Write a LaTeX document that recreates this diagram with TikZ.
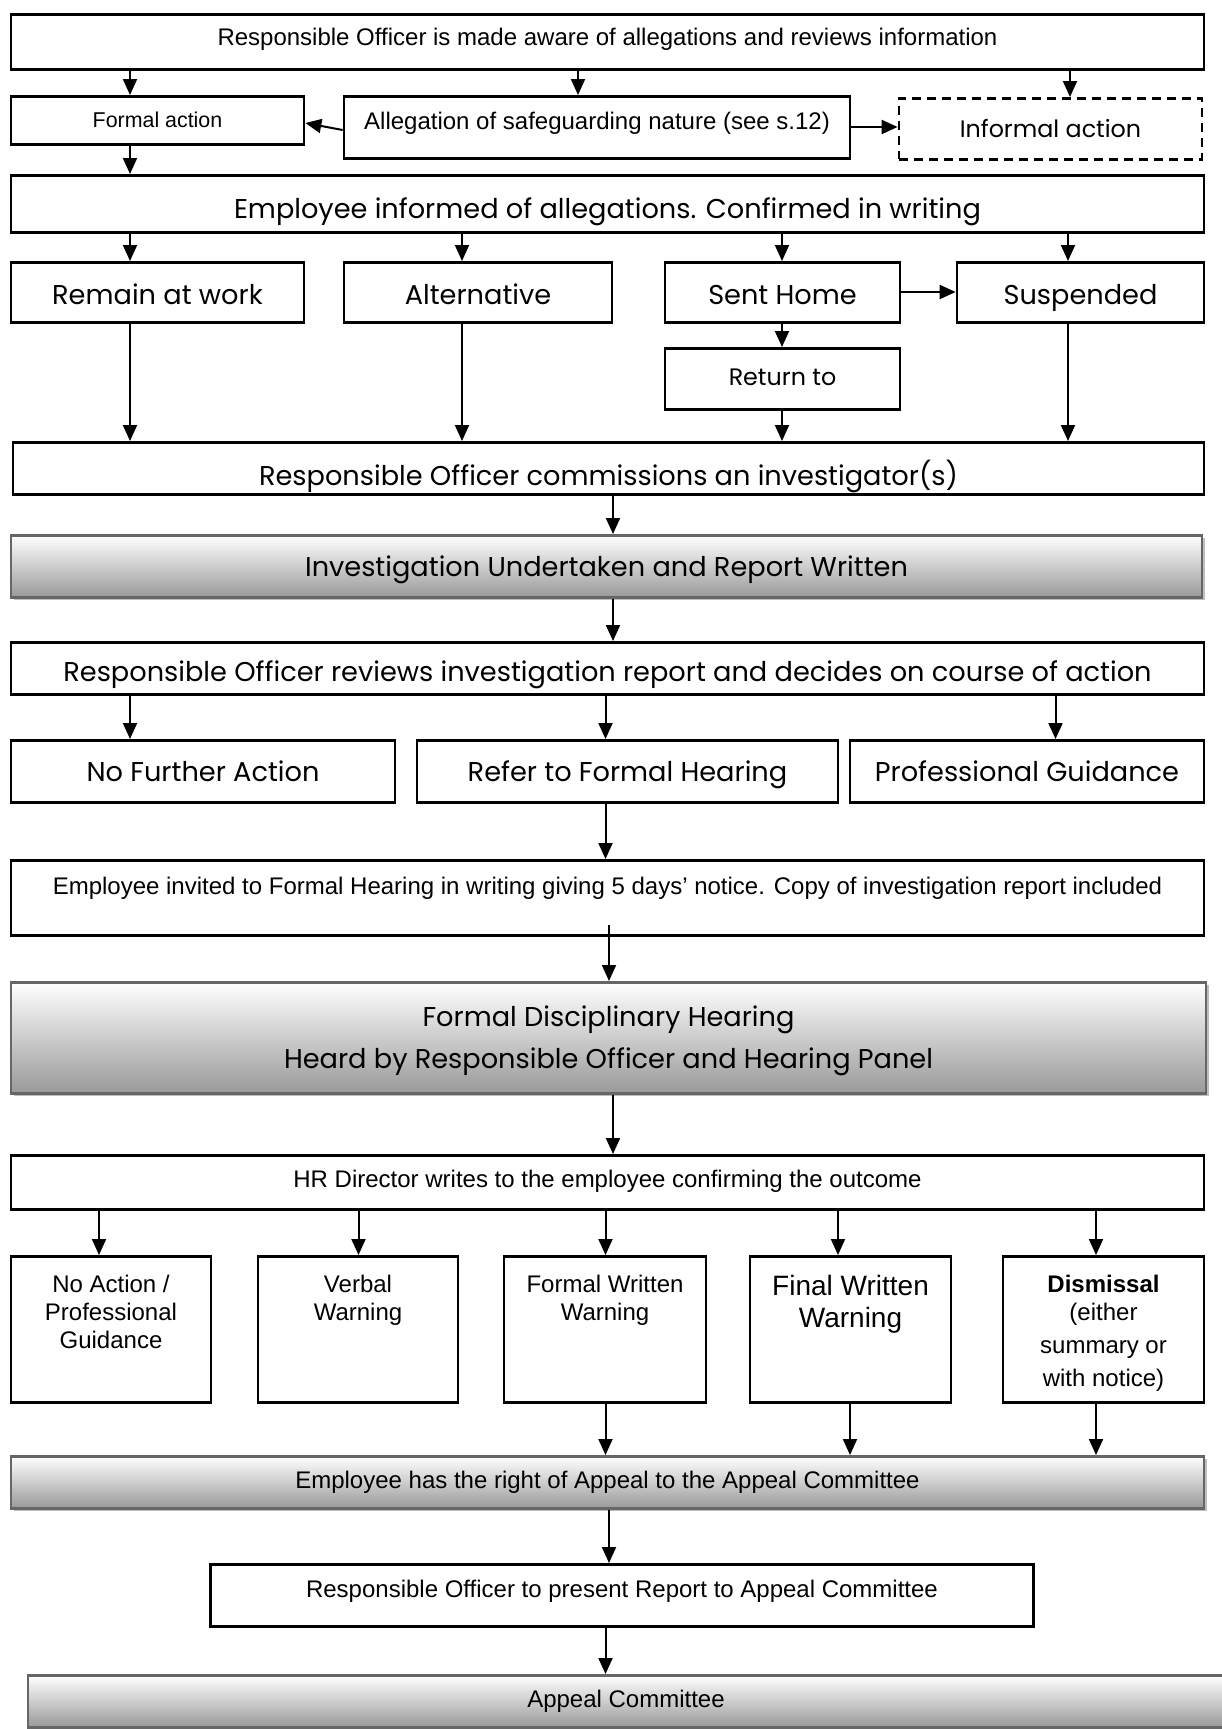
\documentclass[tikz,border=0pt]{standalone}
\usepackage{fontspec}
\usetikzlibrary{arrows.meta,shadows}
\newfontfamily\arialfont{Liberation Sans}
\newfontfamily\roundfont{Poppins}
\tikzset{
  >={Triangle[length=8pt,width=7pt]},
  box/.style={draw, line width=1.35pt, inner sep=0pt, anchor=north, align=center},
  dims/.style n args={3}{minimum width=#1, text height=#2, text depth=#3},
  arial/.style={font=\arialfont\fontsize{12}{13.8}\selectfont},
  arialsmall/.style={font=\arialfont\fontsize{10.7}{13}\selectfont},
  round/.style={font=\roundfont\fontsize{13.6}{21}\selectfont},
  roundsmall/.style={font=\roundfont\fontsize{11.9}{14}\selectfont},
  dashed box/.style={dash pattern=on 4.5pt off 3pt},
  grey box/.style={box, draw=black!60, top color=white, bottom color=black!40,
    drop shadow={shadow xshift=1.5pt, shadow yshift=-1.5pt, fill=black!25, opacity=1}},
  flow/.style={->, line width=1pt},
}
\begin{document}
\begin{tikzpicture}[x=0.5pt, y=-0.5pt]
\useasboundingbox (0,0) rectangle (1221,1729);
% segnalazione
\node[box, arial, dims={596.5pt}{15.5pt}{12pt}] (aware) at (607.5,13) {Responsible Officer is made aware of allegations and reviews information};
\node[box, arialsmall, dims={146.5pt}{15.75pt}{8.25pt}] (formal) at (157.5,95) {Formal action};
\node[box, arial, dims={253pt}{16.75pt}{14.25pt}] (safeguard) at (597,95) {Allegation of safeguarding nature (see s.12)};
\node[box, roundsmall, dashed box, dims={151.5pt}{19.35pt}{11.15pt}] (informal) at (1050.5,97) {Informal action};
\draw[flow] (130,0 |- aware.south) -- (130,0 |- formal.north);
\draw[flow] (578,0 |- aware.south) -- (578,0 |- safeguard.north);
\draw[flow] (1070,0 |- aware.south) -- (1070,0 |- informal.north);
\draw[flow] (safeguard.west |- 0,130) -- (formal.east |- 0,123);
\draw[flow] (safeguard.east |- 0,127) -- (informal.west |- 0,127);
% dipendente informato
\node[box, dims={596.5pt}{21.75pt}{6.75pt}] (informed) at (607.5,174) {};
\begin{scope}
\clip (informed.south west) rectangle (informed.north east);
\node[round, anchor=base, inner sep=0pt] (informed-t) at (607.5,218) {Employee informed of allegations. Confirmed in writing};
\end{scope}
\draw[flow] (130,0 |- formal.south) -- (130,0 |- informed.north);
% posizione del dipendente
\node[box, round, dims={146.5pt}{21.25pt}{8.75pt}] (remain) at (157.5,261) {Remain at work};
\node[box, round, dims={134pt}{21.25pt}{8.75pt}] (alternative) at (478,261) {Alternative};
\node[box, round, dims={117.5pt}{21.25pt}{8.75pt}] (sent) at (782.5,261) {Sent Home};
\node[box, round, dims={123.5pt}{21.25pt}{8.75pt}] (suspended) at (1080.5,261) {Suspended};
\node[box, roundsmall, dims={117.5pt}{18.75pt}{11.75pt}] (return) at (782.5,347) {Return to};
\draw[flow] (130,0 |- informed.south) -- (130,0 |- remain.north);
\draw[flow] (462,0 |- informed.south) -- (462,0 |- alternative.north);
\draw[flow] (782,0 |- informed.south) -- (782,0 |- sent.north);
\draw[flow] (1068,0 |- informed.south) -- (1068,0 |- suspended.north);
\draw[flow] (sent.east |- 0,292) -- (suspended.west |- 0,292);
\draw[flow] (782,0 |- sent.south) -- (782,0 |- return.north);
% indagine
\node[box, dims={595.5pt}{21.75pt}{4.25pt}] (commission) at (608.5,441) {};
\begin{scope}
\clip (commission.south west) rectangle (commission.north east);
\node[round, anchor=base, inner sep=0pt] (commission-t) at (608.5,485) {Responsible Officer commissions an investigator(s)};
\end{scope}
\draw[flow] (130,0 |- remain.south) -- (130,0 |- commission.north);
\draw[flow] (462,0 |- alternative.south) -- (462,0 |- commission.north);
\draw[flow] (782,0 |- return.south) -- (782,0 |- commission.north);
\draw[flow] (1068,0 |- suspended.south) -- (1068,0 |- commission.north);
\node[grey box, round, dims={595.5pt}{20.5pt}{10.5pt}] (report) at (606.5,534) {Investigation Undertaken and Report Written};
\draw[flow] (613,0 |- commission.south) -- (613,0 |- report.north);
\node[box, dims={596.5pt}{20pt}{6pt}] (review) at (607.5,641) {};
\begin{scope}
\clip (review.south west) rectangle (review.north east);
\node[round, anchor=base, inner sep=0pt] (review-t) at (607.5,681.5) {Responsible Officer reviews investigation report and decides on course of action};
\end{scope}
\draw[flow] (613,0 |- report.south) -- (613,0 |- review.north);
% decisione
\node[box, round, dims={192pt}{20.5pt}{10.5pt}] (nfa) at (203,739) {No Further Action};
\node[box, round, dims={210.5pt}{20.5pt}{10.5pt}] (refer) at (627.5,739) {Refer to Formal Hearing};
\node[box, round, dims={177pt}{20.5pt}{10.5pt}] (guidance) at (1027,739) {Professional Guidance};
\draw[flow] (130,0 |- review.south) -- (130,0 |- nfa.north);
\draw[flow] (605.5,0 |- review.south) -- (605.5,0 |- refer.north);
\draw[flow] (1055.5,0 |- review.south) -- (1055.5,0 |- guidance.north);
% udienza
\node[box, arial, dims={596.5pt}{17pt}{20.5pt}] (invite) at (607.5,859) {Employee invited to Formal Hearing in writing giving 5 days’ notice. Copy of investigation report included};
\draw[flow] (605.5,0 |- refer.south) -- (605.5,0 |- invite.north);
\node[grey box, round, dims={597.5pt}{43pt}{12.5pt}] (hearing) at (608.5,981) {Formal Disciplinary Hearing\\Heard by Responsible Officer and Hearing Panel};
\draw[flow] ([yshift=6pt]609,0 |- invite.south) -- (609,0 |- hearing.north);
\node[box, arial, dims={596.5pt}{16.25pt}{10.75pt}] (outcome) at (607.5,1154) {HR Director writes to the employee confirming the outcome};
\draw[flow] (613,0 |- hearing.south) -- (613,0 |- outcome.north);
% esiti
\node[box, arial, dims={100pt}{45.85pt}{27.15pt}] (noaction) at (111,1255) {No Action /\\Professional\\Guidance};
\node[box, arial, dims={100pt}{32.05pt}{40.95pt}] (verbal) at (358,1255) {Verbal\\Warning};
\node[box, arial, dims={101pt}{32.05pt}{40.95pt}] (written) at (605,1255) {Formal Written\\Warning};
\node[box, font=\arialfont\fontsize{14}{16}\selectfont, dims={100.5pt}{35.5pt}{37.5pt}] (final) at (850.5,1255) {Final Written\\Warning};
\node[box, font=\arialfont\fontsize{12}{16.5}\selectfont, dims={100.5pt}{65.25pt}{7.75pt}] (dismissal) at (1103.5,1255) {\bfseries Dismissal\\[-2.5pt](either\\summary or\\with notice)};
\draw[flow] (99,0 |- outcome.south) -- (99,0 |- noaction.north);
\draw[flow] (358.5,0 |- outcome.south) -- (358.5,0 |- verbal.north);
\draw[flow] (605.5,0 |- outcome.south) -- (605.5,0 |- written.north);
\draw[flow] (838,0 |- outcome.south) -- (838,0 |- final.north);
\draw[flow] (1096,0 |- outcome.south) -- (1096,0 |- dismissal.north);
% appello
\node[grey box, arial, dims={596.5pt}{16.25pt}{9.75pt}] (right) at (607.5,1455) {Employee has the right of Appeal to the Appeal Committee};
\draw[flow] (605.5,0 |- written.south) -- (605.5,0 |- right.north);
\draw[flow] (850,0 |- final.south) -- (850,0 |- right.north);
\draw[flow] (1096,0 |- dismissal.south) -- (1096,0 |- right.north);
\node[box, arial, dims={411.5pt}{16.75pt}{14.25pt}] (present) at (622,1563) {Responsible Officer to present Report to Appeal Committee};
\draw[flow] (609,0 |- right.south) -- (609,0 |- present.north);
\node[grey box, arial, dims={598pt}{16pt}{10pt}] (committee) at (626,1674) {Appeal Committee};
\draw[flow] (605.5,0 |- present.south) -- (605.5,0 |- committee.north);
\end{tikzpicture}
\end{document}
